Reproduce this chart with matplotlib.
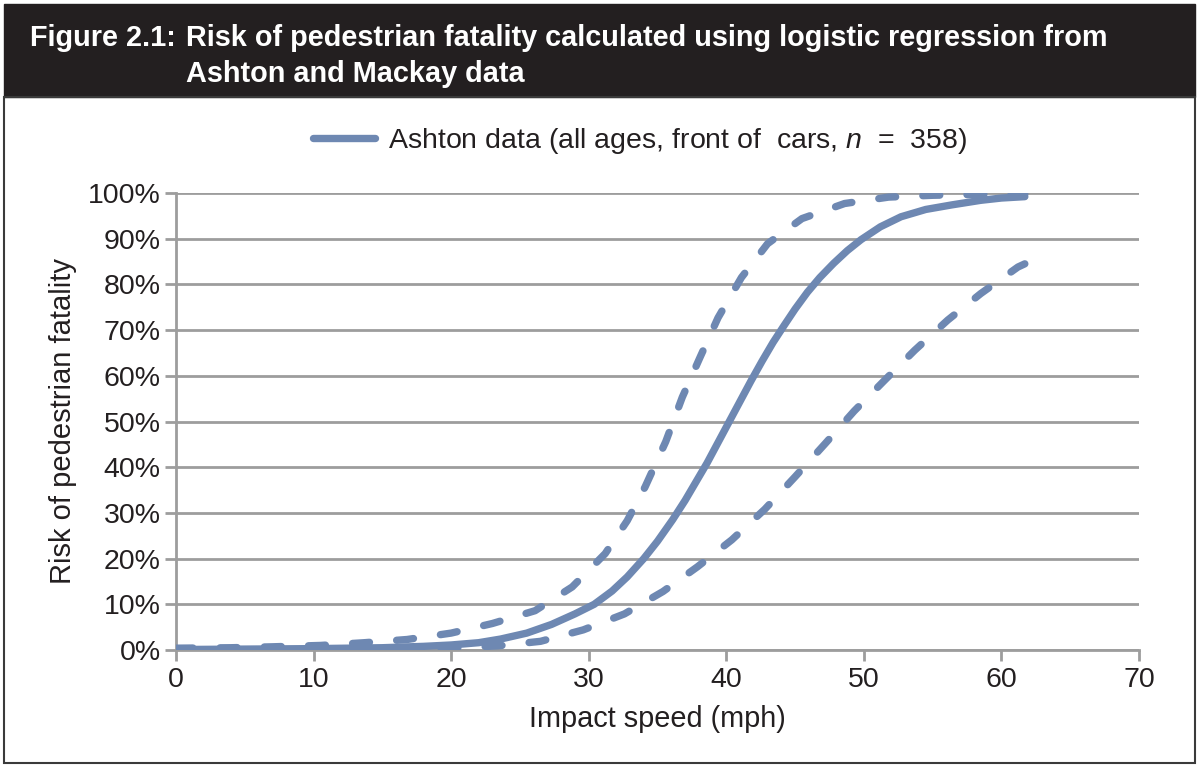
import matplotlib.pyplot as plt
from matplotlib.patches import Rectangle
from matplotlib.ticker import FuncFormatter

# Valors llegits de la figura (velocitat en mph, risc en %)
speed_mid = [0, 5, 10, 15, 18, 20, 22, 23.6, 25.5, 27.3, 29.0, 30.4, 31.7, 32.8, 34.0, 35.0,
             36.1, 37.0, 37.8, 38.6, 39.4, 40.2, 41.0, 41.8, 42.6, 43.4, 44.2, 45.0, 45.9,
             46.8, 47.8, 48.8, 49.8, 51.2, 52.7, 54.5, 56.4, 58.5, 60.0, 61.7]
risk_mid = [0.1, 0.2, 0.3, 0.5, 0.8, 1.1, 1.6, 2.4, 3.7, 5.6, 7.9, 10.0, 12.9, 16.0, 20.0, 23.8,
            28.5, 32.7, 36.8, 40.9, 45.4, 49.9, 54.4, 58.9, 63.2, 67.3, 71.0, 74.6, 78.3,
            81.5, 84.6, 87.4, 89.8, 92.6, 94.8, 96.4, 97.4, 98.4, 98.9, 99.2]

speed_upper = [0, 4, 7, 10.5, 13.7, 16.8, 20, 23, 26.1, 28.8, 31.2, 32.8, 34.1, 35.6, 36.8,
               38.1, 39.4, 41.1, 43.0, 45.5, 48.6, 51.8, 55.0, 58.5, 61.7]
risk_upper = [0.4, 0.5, 0.7, 1.0, 1.6, 2.3, 3.7, 5.8, 8.6, 13.8, 21.1, 28.3, 35.7, 45.6, 55.3,
              64.1, 72.7, 81.5, 88.9, 94.4, 97.7, 99.1, 99.5, 99.7, 99.8]

speed_lower = [0, 4, 8, 12, 16, 20, 23.4, 26.5, 29.6, 32.6, 35.4, 37.9, 40.4, 42.8, 45.0,
               47.2, 49.3, 51.5, 53.7, 56.1, 58.5, 61.2, 61.7]
risk_lower = [0.0, 0.0, 0.05, 0.1, 0.2, 0.45, 0.9, 1.9, 4.4, 7.9, 12.8, 18.2, 24.1, 30.8, 37.9,
              45.2, 52.3, 59.0, 65.6, 72.2, 78.0, 83.8, 84.5]

x_ticks = [0, 10, 20, 30, 40, 50, 60, 70]
y_ticks = [0, 10, 20, 30, 40, 50, 60, 70, 80, 90, 100]

legend_label = 'Ashton data (all ages, front of  cars, $\\mathit{n}$  =  358)'

line_color = '#6e88b2'
grid_color = '#9d9d9d'
text_color = '#231f20'

plt.rcParams['font.family'] = ['Liberation Sans', 'DejaVu Sans']
plt.rcParams['mathtext.fontset'] = 'custom'
plt.rcParams['mathtext.it'] = 'Liberation Sans:italic'
plt.rcParams['mathtext.rm'] = 'Liberation Sans'

fig = plt.figure(figsize=(12, 7.72), dpi=100)

# Capçalera negra i marc
fig.patches.append(Rectangle((0.0033, 0.874), 0.9925, 0.121, transform=fig.transFigure,
                             facecolor=text_color, edgecolor=text_color, zorder=0))
fig.patches.append(Rectangle((0.0033, 0.0117), 0.9925, 0.8623, transform=fig.transFigure,
                             facecolor='none', edgecolor='#3a3a3a', linewidth=1.5, zorder=0))

title_size = 20.8
fig.text(30 / 1200, 1 - 38 / 772, 'Figure 2.1:', color='white', fontsize=title_size,
         weight='bold', va='center', ha='left')
fig.text(186 / 1200, 1 - 38 / 772,
         'Risk of pedestrian fatality calculated using logistic regression from',
         color='white', fontsize=title_size, weight='bold', va='center', ha='left')
fig.text(186 / 1200, 1 - 74 / 772, 'Ashton and Mackay data', color='white',
         fontsize=title_size, weight='bold', va='center', ha='left')

ax = fig.add_axes([176 / 1200, 1 - 650 / 772, (1139 - 176) / 1200, (650 - 193) / 772])

lw = 5.3
ax.plot(speed_mid, risk_mid, color=line_color, linewidth=lw, solid_capstyle='round',
        solid_joinstyle='round', label=legend_label, zorder=3)
ax.plot(speed_upper, risk_upper, color=line_color, linewidth=lw, dashes=(2.3, 3.7),
        dash_capstyle='round', zorder=3)
ax.plot(speed_lower, risk_lower, color=line_color, linewidth=lw, dashes=(2.3, 3.7),
        dash_capstyle='round', zorder=3)

ax.set_xlim(0, 70)
ax.set_ylim(0, 100)
ax.set_xticks(x_ticks)
ax.set_yticks(y_ticks)
ax.yaxis.set_major_formatter(FuncFormatter(lambda v, p: '%d%%' % v))
ax.grid(axis='y', color=grid_color, linewidth=2)
ax.set_axisbelow(True)

for side in ['top', 'right']:
    ax.spines[side].set_visible(False)
for side in ['left', 'bottom']:
    ax.spines[side].set_color(grid_color)
    ax.spines[side].set_linewidth(2)
ax.tick_params(axis='both', colors=grid_color, length=8, width=2, labelsize=20.5,
               labelcolor=text_color)
ax.tick_params(axis='x', pad=4)
ax.tick_params(axis='y', pad=3)

ax.set_xlabel('Impact speed (mph)', fontsize=20.8, color=text_color, labelpad=9)
ax.set_ylabel('Risk of pedestrian fatality', fontsize=21, color=text_color, labelpad=8)

ax.legend(loc='center', bbox_to_anchor=(640 / 1200, 1 - 141 / 772),
          bbox_transform=fig.transFigure, frameon=False, fontsize=20.5, handlelength=2.2,
          handletextpad=0.45)
for t in ax.get_legend().get_texts():
    t.set_color(text_color)

fig.savefig('out.png', dpi=100)
